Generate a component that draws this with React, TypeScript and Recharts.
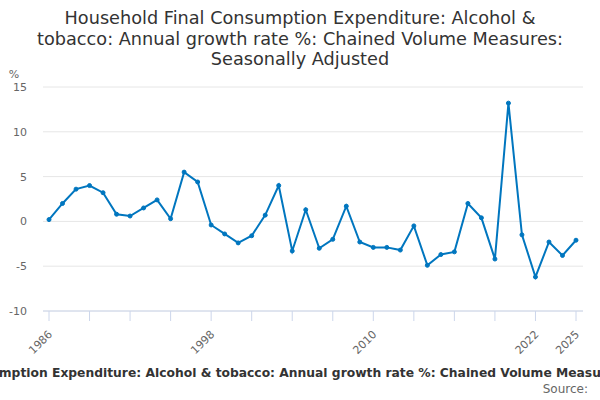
import { LineChart, Line, XAxis, YAxis, CartesianGrid } from "recharts";

const years = [
  1986, 1987, 1988, 1989, 1990, 1991, 1992, 1993, 1994, 1995,
  1996, 1997, 1998, 1999, 2000, 2001, 2002, 2003, 2004, 2005,
  2006, 2007, 2008, 2009, 2010, 2011, 2012, 2013, 2014, 2015,
  2016, 2017, 2018, 2019, 2020, 2021, 2022, 2023, 2024, 2025,
];

const growth = [
  0.2, 2.0, 3.6, 4.0, 3.2, 0.8, 0.6, 1.5, 2.4, 0.3,
  5.5, 4.4, -0.4, -1.4, -2.4, -1.6, 0.7, 4.0, -3.3, 1.3,
  -3.0, -2.0, 1.7, -2.3, -2.9, -2.9, -3.2, -0.5, -4.9, -3.7,
  -3.4, 2.0, 0.4, -4.2, 13.2, -1.5, -6.2, -2.3, -3.8, -2.1,
];

const xTicks = [1986, 1989, 1992, 1995, 1998, 2001, 2004, 2007, 2010, 2013, 2016, 2019, 2022, 2025];
const xLabels = [1986, 1998, 2010, 2022, 2025];
const yTicks = [-10, -5, 0, 5, 10, 15];

const titleLines = [
  "Household Final Consumption Expenditure: Alcohol &",
  "tobacco: Annual growth rate %: Chained Volume Measures:",
  "Seasonally Adjusted",
];
const footer =
  "Household Final Consumption Expenditure: Alcohol & tobacco: Annual growth rate %: Chained Volume Measures: Seasonally Adjusted";

const data = years.map((year, i) => ({ year, value: growth[i] }));

const font = "'DejaVu Sans', Verdana, sans-serif";
const blue = "#0076bf";

function XTick(props: any) {
  const { x, y, payload } = props;
  if (!xLabels.includes(payload.value)) return null;
  const tx = x + 4;
  const ty = y + 12;
  return (
    <text
      x={tx}
      y={ty}
      textAnchor="end"
      fontSize={11}
      fill="#666666"
      fontFamily={font}
      transform={`rotate(-45 ${tx} ${ty})`}
    >
      {payload.value}
    </text>
  );
}

function YTick(props: any) {
  const { y, payload } = props;
  return (
    <text x={27} y={y + 4} textAnchor="end" fontSize={11} fill="#666666" fontFamily={font}>
      {payload.value}
    </text>
  );
}

export default function App() {
  return (
    <div style={{ position: "absolute", left: 0, top: 0, width: 600, height: 400, background: "#fff" }}>
      <LineChart
        width={600}
        height={400}
        data={data}
        margin={{ top: 87, right: 17, bottom: 0, left: 0 }}
      >
        <CartesianGrid vertical={false} stroke="#e6e6e6" />
        <XAxis
          dataKey="year"
          type="number"
          domain={[1986, 2025]}
          ticks={xTicks}
          interval={0}
          padding={{ left: 6, right: 7 }}
          stroke="#ccd6eb"
          tickSize={10}
          tick={<XTick />}
          height={89}
        />
        <YAxis
          domain={[-10, 15]}
          ticks={yTicks}
          axisLine={false}
          tickLine={false}
          width={43}
          tick={<YTick />}
        />
        <Line
          type="linear"
          dataKey="value"
          stroke={blue}
          strokeWidth={2}
          dot={{ r: 2, fill: blue, stroke: blue, strokeWidth: 1 }}
          isAnimationActive={false}
        />
      </LineChart>
      <svg
        width={600}
        height={400}
        style={{ position: "absolute", left: 0, top: 0, pointerEvents: "none" }}
      >
        {titleLines.map((line, i) => (
          <text
            key={i}
            x={300}
            y={24 + i * 20.5}
            textAnchor="middle"
            fontSize={17.7}
            fill="#333333"
            fontFamily={font}
          >
            {line}
          </text>
        ))}
        <text x={14} y={78} textAnchor="middle" fontSize={11} fill="#666666" fontFamily={font}>
          %
        </text>
        <text x={306.6} y={377} textAnchor="middle" fontSize={12.3} fontWeight="bold" fill="#333333" fontFamily={font}>
          {footer}
        </text>
        <text x={588} y={393} textAnchor="end" fontSize={12} fill="#666666" fontFamily={font}>
          Source:
        </text>
      </svg>
    </div>
  );
}
